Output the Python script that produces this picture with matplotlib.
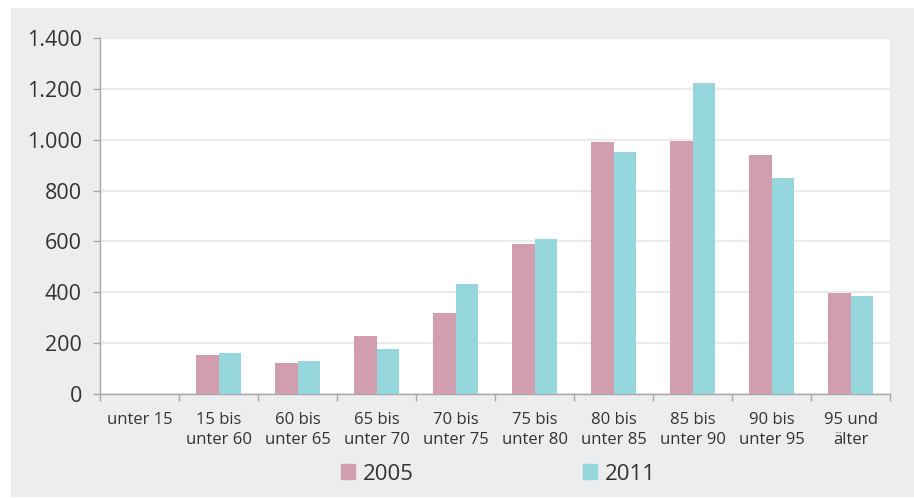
import matplotlib.pyplot as plt
import numpy as np
from matplotlib.patches import Rectangle, Patch
from matplotlib.ticker import FuncFormatter, FixedLocator

plt.rcParams['font.family'] = ['Open Sans', 'DejaVu Sans']

# Altersgruppen und Werte
categories = ["unter 15", "15 bis\nunter 60", "60 bis\nunter 65", "65 bis\nunter 70",
              "70 bis\nunter 75", "75 bis\nunter 80", "80 bis\nunter 85", "85 bis\nunter 90",
              "90 bis\nunter 95", "95 und\nälter"]
values_2005 = [0, 152, 122, 228, 318, 590, 991, 995, 940, 397]
values_2011 = [0, 160, 130, 177, 432, 609, 952, 1223, 849, 385]
y_ticks = [0, 200, 400, 600, 800, 1000, 1200, 1400]

color_2005 = "#d19eb0"
color_2011 = "#96d7de"
bg = "#ecedef"
text_color = "#333333"
axis_color = "#a8a8a8"

fig = plt.figure(figsize=(9.14, 4.98), dpi=100)
fig.patch.set_facecolor("white")
fig.patches.append(Rectangle((11 / 914, 1 / 498), 1 - 11 / 914, 489 / 498,
                             transform=fig.transFigure, facecolor=bg, edgecolor="none", zorder=-5))

ax = fig.add_axes([100 / 914, 104 / 498, 790 / 914, 356 / 498])
ax.set_zorder(2)
ax.set_facecolor("white")

x = np.arange(len(categories))
w = 0.29
ax.bar(x - w / 2, values_2005, w, color=color_2005, zorder=3)
ax.bar(x + w / 2, values_2011, w, color=color_2011, zorder=3)

ax.set_xlim(-0.5, len(categories) - 0.5)
ax.set_ylim(0, 1400)
ax.set_yticks(y_ticks)
ax.yaxis.set_major_formatter(FuncFormatter(lambda v, p: f"{int(v):,}".replace(",", ".")))
ax.grid(axis="y", color="#ebebeb", linewidth=1.6, zorder=1)

# Ticks an den Gruppengrenzen, Beschriftung in der Mitte
ax.xaxis.set_major_locator(FixedLocator(np.arange(-0.5, len(categories), 1.0)))
ax.xaxis.set_major_formatter(FuncFormatter(lambda v, p: ""))
ax.xaxis.set_minor_locator(FixedLocator(x))
ax.set_xticklabels(categories, minor=True)
ax.tick_params(axis="x", which="major", length=5, color=axis_color, width=1)
ax.tick_params(axis="x", which="minor", length=0, pad=13, labelsize=12, labelcolor=text_color)
ax.tick_params(axis="y", length=5, color=axis_color, width=1, pad=8,
               labelsize=15.5, labelcolor=text_color)
for lbl in ax.get_xticklabels(minor=True):
    lbl.set_linespacing(1.35)

for side in ("top", "right"):
    ax.spines[side].set_visible(False)
for side in ("left", "bottom"):
    ax.spines[side].set_color(axis_color)
    ax.spines[side].set_linewidth(1)

handles = [Patch(color=color_2005, label="2005"), Patch(color=color_2011, label="2011")]
fig.legend(handles=handles, loc="center", bbox_to_anchor=(0.545, 0.048), ncol=2, frameon=False,
           fontsize=16, handlelength=0.65, handleheight=0.65, handletextpad=0.35,
           columnspacing=7.6, labelcolor=text_color)

fig.savefig("out.png", dpi=100, facecolor=fig.get_facecolor())
